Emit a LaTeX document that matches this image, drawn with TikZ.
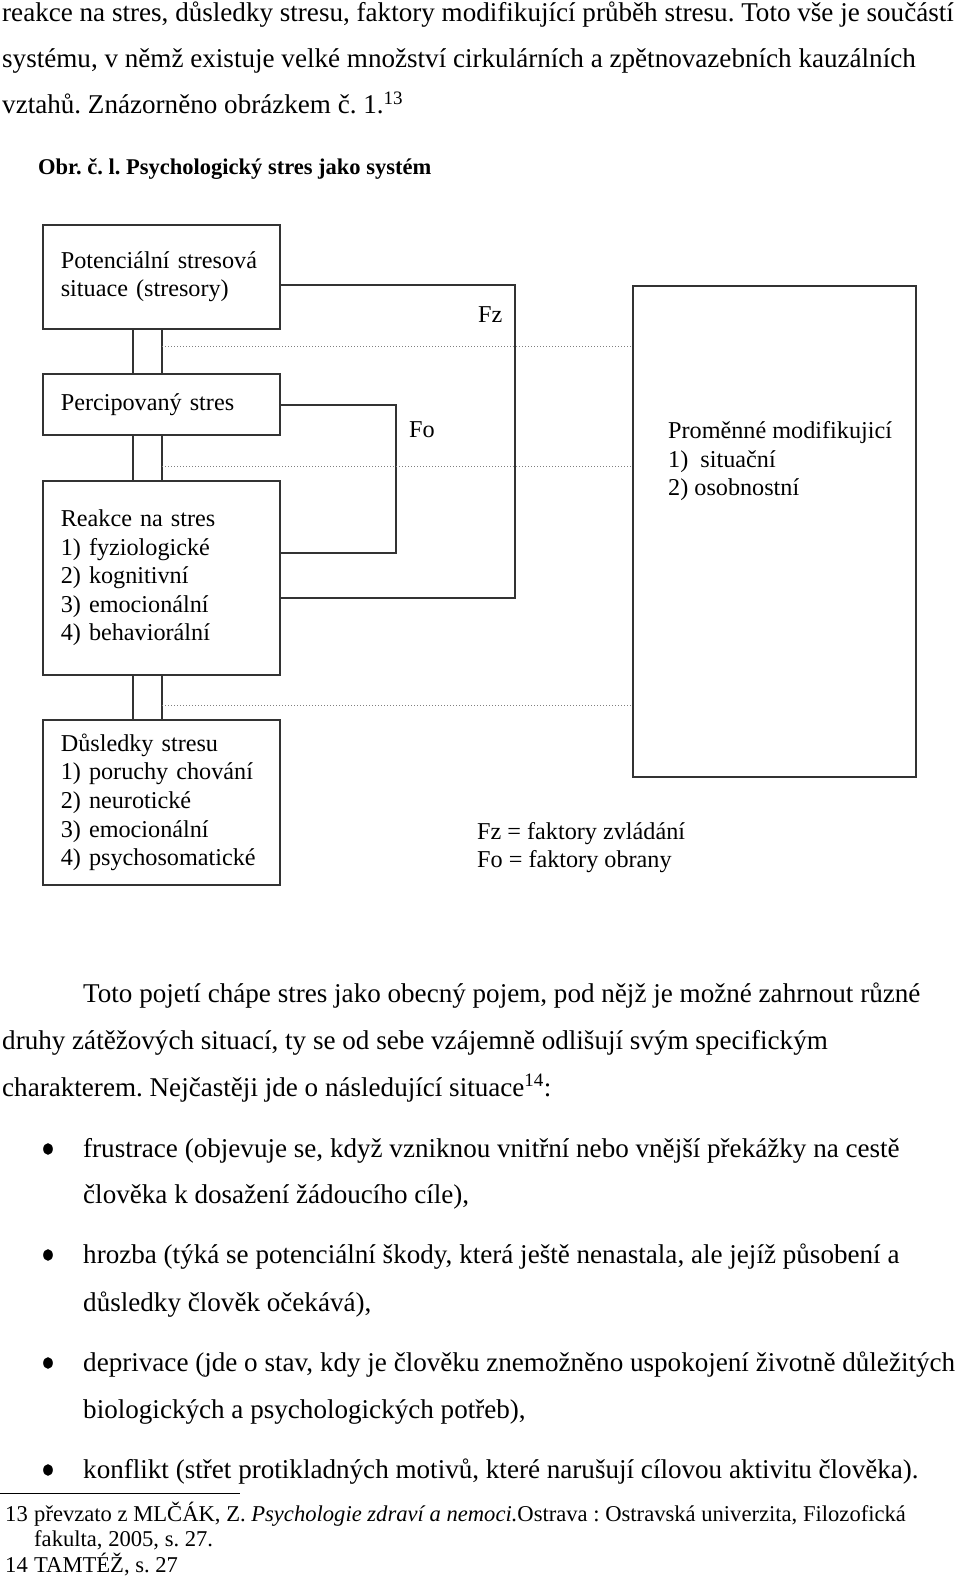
\documentclass[tikz,border=0pt]{standalone}
\usepackage{fontspec}
\setmainfont{Liberation Serif}
\frenchspacing
\newcommand{\bodyfont}{\fontsize{27.1}{30}\selectfont}
\newcommand{\boxfont}{\fontsize{24.2}{28.6}\selectfont}
\newcommand{\notefont}{\fontsize{22.6}{25}\selectfont}
\newcommand{\titlefont}{\fontsize{22.5}{25}\selectfont\bfseries}
\begin{document}
\begin{tikzpicture}[x=1pt, y=-1pt,
    wire/.style={line width=1.4pt, black!80},
    stressbox/.style={draw, line width=1.6pt, black!80, text=black, anchor=north west, minimum width=237pt, text width=201pt, inner xsep=18pt, inner ysep=0pt, align=left, font=\boxfont},
    feedback/.style={dotted, line width=1pt, black!50},
    bodytext/.style={anchor=base west, inner sep=0pt, font=\bodyfont},
    boxtext/.style={anchor=base west, inner sep=0pt, font=\boxfont},
    notetext/.style={anchor=base west, inner sep=0pt, font=\notefont}]
    \useasboundingbox (0, 0) rectangle (960, 1581);

    \node[bodytext] (l1) at(2, 22){reakce na stres, důsledky stresu, faktory modifikující průběh stresu. Toto vše je součástí};
    \node[bodytext] (l2) at(2, 68){systému, v němž existuje velké množství cirkulárních a zpětnovazebních kauzálních};
    \node[bodytext] (l3) at(2, 114){vztahů. Znázorněno obrázkem č. 1.\textsuperscript{13}};

    \node[anchor=base west, inner sep=0pt, font=\titlefont] (title) at(38, 175){Obr. č. l. Psychologický stres jako systém};

    \node[stressbox, minimum height=104pt, yshift=0pt] (pot) at(42, 224){Potenciální stresová\\ situace (stresory)};
    \node[stressbox, minimum height=61pt] (perc) at(42, 373){Percipovaný stres};
    \node[stressbox, minimum height=194pt] (reak) at(42, 480){Reakce na stres\\ 1) fyziologické\\ 2) kognitivní\\ 3) emocionální\\ 4) behaviorální};
    \node[stressbox, minimum height=165pt] (dusl) at(42, 719){Důsledky stresu\\ 1) poruchy chování\\ 2) neurotické\\ 3) emocionální\\ 4) psychosomatické};
    \node[draw, line width=1.6pt, black!80, anchor=north west, minimum width=283pt, minimum height=491pt] (mod) at(632, 285){};

    \node[boxtext] (modA) at(668, 438){Proměnné modifikujicí};
    \node[boxtext] (modB) at(668, 467){1)\enspace situační};
    \node[boxtext] (modC) at(668, 495){2) osobnostní};

    \coordinate (dl) at(133, 0);
    \coordinate (dr) at(162, 0);
      \draw[wire](pot.south -| dl) -- (perc.north -| dl);
      \draw[wire](pot.south -| dr) -- (perc.north -| dr);
      \draw[wire](perc.south -| dl) -- (reak.north -| dl);
      \draw[wire](perc.south -| dr) -- (reak.north -| dr);
      \draw[wire](reak.south -| dl) -- (dusl.north -| dl);
      \draw[wire](reak.south -| dr) -- (dusl.north -| dr);

    \coordinate (fzTop) at(515, 285);
    \coordinate (fzBot) at(515, 598);
      \draw[wire](pot.east |- fzTop) -- (fzTop) -- (fzBot) -- (reak.east |- fzBot);
    \coordinate (foTop) at(396, 405);
    \coordinate (foBot) at(396, 553);
      \draw[wire](perc.east |- foTop) -- (foTop) -- (foBot) -- (reak.east |- foBot);

    \coordinate (fb1) at(162, 346);
    \coordinate (fb2) at(162, 466);
    \coordinate (fb3) at(162, 705);
      \draw[feedback](fb1) -- (mod.west |- fb1);
      \draw[feedback](fb2) -- (mod.west |- fb2);
      \draw[feedback](fb3) -- (mod.west |- fb3);

    \node[boxtext] (fz) at(478, 322){Fz};
    \node[boxtext] (fo) at(409, 437){Fo};

    \node[boxtext] (legA) at(477, 839){Fz = faktory zvládání};
    \node[boxtext] (legB) at(477, 867){Fo = faktory obrany};

    \node[bodytext] (p1) at(83, 1002){Toto pojetí chápe stres jako obecný pojem, pod nějž je možné zahrnout různé};
    \node[bodytext] (p2) at(2, 1049){druhy zátěžových situací, ty se od sebe vzájemně odlišují svým specifickým};
    \node[bodytext] (p3) at(2, 1096){charakterem. Nejčastěji jde o následující situace\textsuperscript{14}:};

    \node[bodytext] (b1a) at(83, 1157){frustrace (objevuje se, když vzniknou vnitřní nebo vnější překážky na cestě};
    \node[bodytext] (b1b) at(83, 1203){člověka k dosažení žádoucího cíle),};
    \node[bodytext] (b2a) at(83, 1263){hrozba (týká se potenciální škody, která ještě nenastala, ale jejíž působení a};
    \node[bodytext] (b2b) at(83, 1311){důsledky člověk očekává),};
    \node[bodytext] (b3a) at(83, 1371){deprivace (jde o stav, kdy je člověku znemožněno uspokojení životně důležitých};
    \node[bodytext] (b3b) at(83, 1418){biologických a psychologických potřeb),};
    \node[bodytext] (b4a) at(83, 1478){konflikt (střet protikladných motivů, které narušují cílovou aktivitu člověka).};

    \foreach \y in {1157, 1263, 1371, 1478}
      \fill (48, \y - 8) ellipse (4.8 and 5.8);

    \coordinate (ruleA) at(0, 1493);
    \coordinate (ruleB) at(240, 1493);
      \draw[line width=1pt](ruleA) -- (ruleB);

    \node[notetext] (n13) at(5, 1521){13};
    \node[notetext] (n13a) at(34, 1521){převzato z MLČÁK, Z. \textit{Psychologie zdraví a nemoci.}Ostrava : Ostravská univerzita, Filozofická};
    \node[notetext] (n13b) at(34, 1546){fakulta, 2005, s. 27.};
    \node[notetext] (n14) at(5, 1572){14};
    \node[notetext] (n14a) at(34, 1572){TAMTÉŽ, s. 27};
  \end{tikzpicture}
\end{document}
